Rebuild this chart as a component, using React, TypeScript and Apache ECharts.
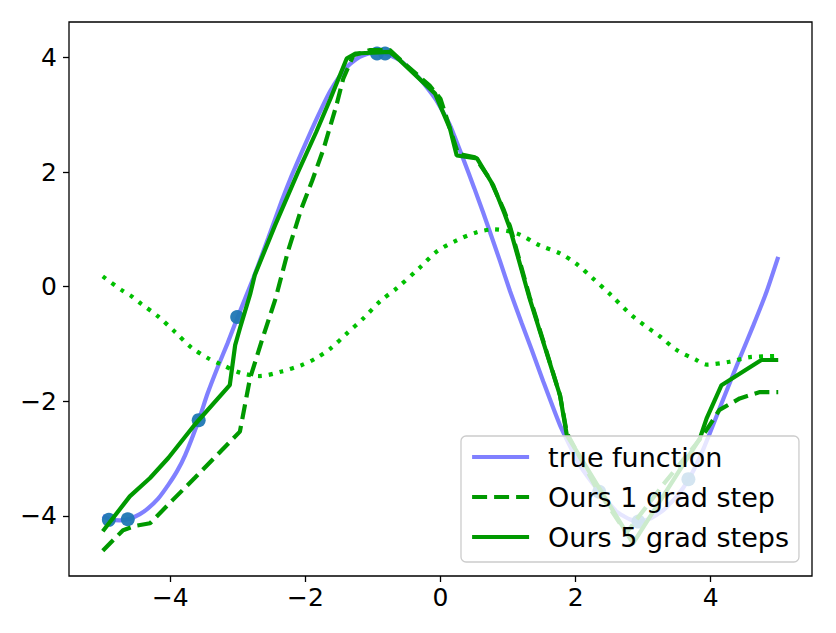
import React, { useEffect, useRef } from 'react';
import * as echarts from 'echarts';

// x/y tick labels
const xTicks = [-4, -2, 0, 2, 4];
const yTicks = [-4, -2, 0, 2, 4];

// true function
const trueX = [-5.0, -4.9, -4.75, -4.6, -4.45, -4.33, -4.18, -4.03, -3.9, -3.78, -3.58, -3.45, -3.29, -3.15, -3.01, -2.77, -2.55, -2.35, -2.2, -2.06, -1.9, -1.75, -1.63, -1.5, -1.39, -1.25, -1.14, -1.0, -0.87, -0.75, -0.6, -0.45, -0.3, -0.15, -0.06, 0.14, 0.34, 0.5, 0.63, 0.88, 1.03, 1.2, 1.35, 1.52, 1.77, 2.06, 2.35, 2.61, 2.8, 2.93, 3.1, 3.3, 3.5, 3.69, 3.85, 3.99, 4.2, 4.43, 4.63, 4.83, 5.0];
const trueY = [-4.0, -4.06, -4.08, -4.05, -3.97, -3.87, -3.7, -3.46, -3.22, -2.94, -2.33, -1.87, -1.38, -0.98, -0.55, 0.15, 0.85, 1.5, 1.95, 2.33, 2.76, 3.14, 3.42, 3.66, 3.83, 3.97, 4.04, 4.08, 4.08, 4.04, 3.95, 3.8, 3.62, 3.4, 3.25, 2.82, 2.22, 1.72, 1.3, 0.45, -0.08, -0.63, -1.1, -1.65, -2.42, -3.11, -3.58, -3.93, -4.06, -4.1, -4.05, -3.9, -3.66, -3.33, -2.95, -2.55, -1.92, -1.25, -0.68, -0.08, 0.52];

// sampled points
const ptsX = [-4.91, -4.63, -3.58, -3.01, -0.94, -0.82, 2.35, 2.93, 3.67];
const ptsY = [-4.07, -4.06, -2.33, -0.53, 4.07, 4.07, -3.58, -4.1, -3.36];

// pre-update (dotted)
const preX = [-5.0, -4.72, -4.57, -4.43, -4.18, -3.93, -3.69, -3.44, -3.24, -2.97, -2.68, -2.35, -2.06, -1.86, -1.63, -1.39, -1.14, -0.89, -0.65, -0.3, -0.06, 0.24, 0.54, 0.78, 1.13, 1.47, 1.77, 2.01, 2.26, 2.51, 2.85, 3.25, 3.49, 3.79, 3.94, 4.28, 4.58, 5.0];
const preY = [0.18, -0.06, -0.17, -0.3, -0.52, -0.79, -1.06, -1.25, -1.36, -1.5, -1.56, -1.48, -1.37, -1.26, -1.08, -0.82, -0.55, -0.25, -0.03, 0.34, 0.61, 0.81, 0.95, 1.0, 0.93, 0.72, 0.58, 0.4, 0.14, -0.13, -0.52, -0.87, -1.1, -1.28, -1.36, -1.31, -1.23, -1.21];

// Ours 1 grad step (dashed)
const oneX = [-5.0, -4.7, -4.5, -4.3, -3.97, -3.64, -2.97, -2.82, -2.65, -2.44, -2.26, -2.06, -1.9, -1.73, -1.54, -1.44, -1.29, -1.04, -0.75, -0.5, -0.16, 0.0, 0.14, 0.26, 0.51, 0.73, 0.93, 1.03, 1.32, 1.77, 1.87, 2.3, 2.75, 3.3, 3.89, 4.13, 4.43, 4.73, 5.0];
const oneY = [-4.61, -4.25, -4.17, -4.13, -3.73, -3.34, -2.53, -1.6, -0.96, -0.2, 0.61, 1.36, 1.85, 2.41, 3.17, 3.63, 4.04, 4.13, 4.13, 3.86, 3.51, 3.28, 2.76, 2.32, 2.26, 1.88, 1.36, 1.05, -0.18, -1.9, -2.55, -3.5, -4.3, -3.45, -2.59, -2.15, -1.95, -1.84, -1.84];

// Ours 5 grad steps (solid)
const fiveX = [-5.0, -4.6, -4.3, -4.03, -3.64, -3.12, -3.04, -2.97, -2.82, -2.75, -2.45, -2.11, -1.84, -1.63, -1.39, -1.26, -0.75, -0.6, -0.08, 0.14, 0.24, 0.54, 0.78, 0.95, 1.03, 1.32, 1.77, 1.87, 2.85, 3.84, 3.94, 4.16, 4.75, 5.0];
const fiveY = [-4.27, -3.66, -3.34, -2.99, -2.41, -1.72, -1.02, -0.73, -0.14, 0.2, 1.07, 2.0, 2.7, 3.28, 3.98, 4.07, 4.1, 3.95, 3.37, 2.76, 2.29, 2.24, 1.77, 1.27, 1.01, -0.21, -1.9, -2.59, -4.48, -2.65, -2.3, -1.72, -1.28, -1.28];

const pairs = (xs: number[], ys: number[]) => xs.map((x, i) => [x, ys[i]]);
const fmt = (v: number) => (v < 0 ? '\u2212' + Math.abs(v) : String(v));

export default function App() {
  const ref = useRef<HTMLDivElement>(null);
  useEffect(() => {
    document.body.style.margin = '0';
    const chart = echarts.init(ref.current!, null, { renderer: 'svg' });
    const font = "'DejaVu Sans', sans-serif";
    const axisCommon = {
      type: 'value' as const,
      splitLine: { show: false },
      axisLine: { show: false, onZero: false },
    };
    const LW = 4.2;
    chart.setOption({
      animation: false,
      backgroundColor: '#fff',
      grid: {
        left: 69, right: 24, top: 22, bottom: 57,
        containLabel: false,
        outerBoundsMode: 'none',
        show: true, borderColor: '#000', borderWidth: 1.3, backgroundColor: 'transparent',
      },
      xAxis: {
        ...axisCommon,
        min: -5.5, max: 5.5,
        axisTick: { show: true, length: 6, lineStyle: { color: '#000', width: 1.3 }, customValues: xTicks },
        axisLabel: { customValues: xTicks, formatter: fmt, color: '#000', fontSize: 25, fontFamily: font, margin: 9 },
      },
      yAxis: {
        ...axisCommon,
        min: -5.05, max: 4.62,
        axisTick: { show: true, length: 6, lineStyle: { color: '#000', width: 1.3 }, customValues: yTicks },
        axisLabel: { customValues: yTicks, formatter: fmt, color: '#000', fontSize: 25, fontFamily: font, margin: 12 },
      },
      legend: {
        data: ['true function', 'Ours 1 grad step', 'Ours 5 grad steps'],
        orient: 'vertical',
        left: 461, top: 436,
        z: 20,
        itemWidth: 57, itemHeight: 14, itemGap: 10,
        padding: [6, 10, 10, 9],
        backgroundColor: 'rgba(255,255,255,0.8)',
        borderColor: '#cccccc', borderWidth: 1.3, borderRadius: 5,
        itemStyle: { opacity: 0 },
        lineStyle: { width: LW },
        textStyle: { fontSize: 27, fontFamily: font, color: '#000', lineHeight: 30, padding: [0, 0, 0, 14] },
      },
      series: [
        {
          name: 'true function', type: 'line', data: pairs(trueX, trueY),
          showSymbol: false, symbol: 'none', smooth: 0.15,
          lineStyle: { color: '#8080ff', width: LW }, itemStyle: { color: '#8080ff' }, z: 2,
        },
        {
          name: 'points', type: 'scatter', data: pairs(ptsX, ptsY),
          symbolSize: 14, itemStyle: { color: '#1f77b4', opacity: 0.95 }, z: 3,
        },
        {
          name: 'pre-update', type: 'line', data: pairs(preX, preY),
          showSymbol: false, symbol: 'none', smooth: 0.3,
          lineStyle: { color: '#00c000', width: LW, type: [4, 7] }, itemStyle: { color: '#00c000' }, z: 4,
        },
        {
          name: 'Ours 1 grad step', type: 'line', data: pairs(oneX, oneY),
          showSymbol: false, symbol: 'none',
          lineStyle: { color: '#009900', width: LW, type: [15, 7] }, itemStyle: { color: '#009900' }, z: 5,
        },
        {
          name: 'Ours 5 grad steps', type: 'line', data: pairs(fiveX, fiveY),
          showSymbol: false, symbol: 'none',
          lineStyle: { color: '#009900', width: LW }, itemStyle: { color: '#009900' }, z: 6,
        },
      ],
    });
    return () => chart.dispose();
  }, []);
  return <div ref={ref} style={{ width: 836, height: 633 }} />;
}
